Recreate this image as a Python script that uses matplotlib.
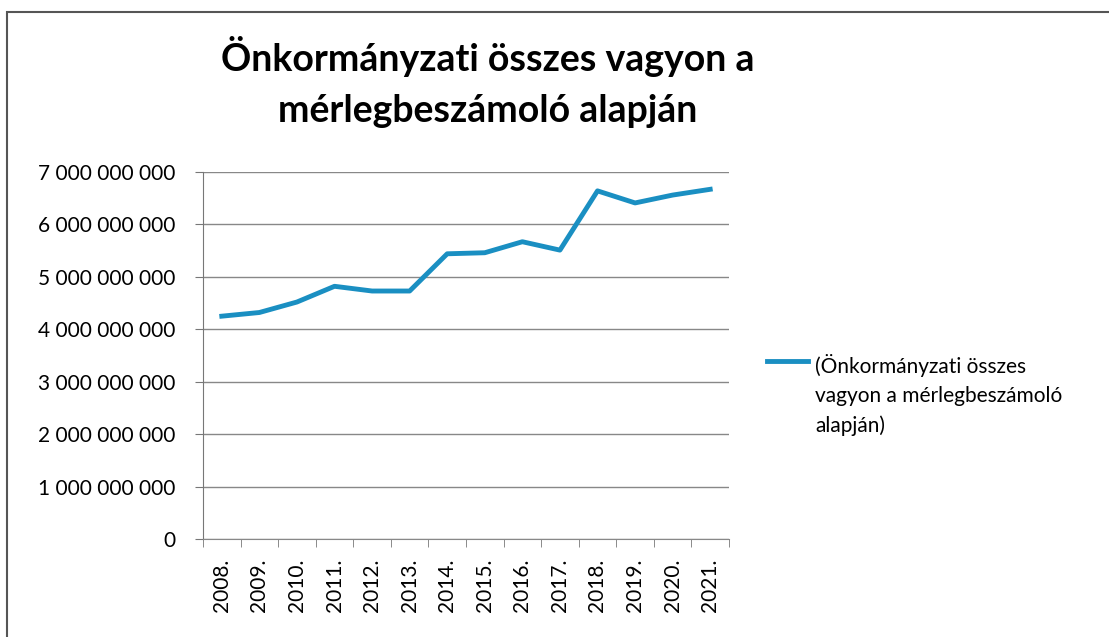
import numpy as np
import matplotlib.pyplot as plt
from matplotlib.lines import Line2D
from matplotlib.patches import Rectangle
from matplotlib.ticker import FuncFormatter

plt.rcParams['font.family'] = ['Lato', 'DejaVu Sans']

# adatok (leolvasva)
evek = ['2008.', '2009.', '2010.', '2011.', '2012.', '2013.', '2014.',
        '2015.', '2016.', '2017.', '2018.', '2019.', '2020.', '2021.']
vagyon = [4.25e9, 4.32e9, 4.52e9, 4.82e9, 4.73e9, 4.73e9, 5.44e9,
          5.46e9, 5.67e9, 5.51e9, 6.64e9, 6.41e9, 6.56e9, 6.67e9]
y_ticks = [0, 1e9, 2e9, 3e9, 4e9, 5e9, 6e9, 7e9]

cim = 'Önkormányzati összes vagyon a\nmérlegbeszámoló alapján'
jelmagyarazat = '(Önkormányzati összes\nvagyon a mérlegbeszámoló\nalapján)'
szin = '#1a8fc2'

fig = plt.figure(figsize=(11.09, 6.37), dpi=100)
ax = fig.add_axes([203/1109, 1 - 539/637, (729 - 203)/1109, (539 - 172)/637])

x = np.arange(len(evek))
ax.plot(x, vagyon, color=szin, linewidth=3.5, solid_joinstyle='round')

ax.set_xlim(-0.5, len(evek) - 0.5)
ax.set_ylim(0, 7e9)
ax.set_yticks(y_ticks)
ax.yaxis.set_major_formatter(FuncFormatter(lambda v, p: f'{int(v):,}'.replace(',', ' ')))
ax.grid(axis='y', color='#888888', linewidth=1)
ax.set_axisbelow(True)

ax.set_xticks(x)
ax.set_xticklabels(evek, rotation=90, fontsize=15)
ax.set_xticks(np.arange(-0.5, len(evek)), minor=True)
ax.tick_params(axis='x', which='major', length=0, pad=14)
ax.tick_params(axis='x', which='minor', length=6, direction='out', color='#777777')
ax.tick_params(axis='y', length=6, direction='out', color='#777777', labelsize=15, pad=14)

for s in ['top', 'right']:
    ax.spines[s].set_visible(False)
ax.spines['left'].set_color('#777777')
ax.spines['bottom'].set_color('#888888')

fig.text(488/1109, 1 - 82/637, cim, ha='center', va='center', fontsize=27,
         fontweight='bold', linespacing=1.6)

# jelmagyarázat
fig.add_artist(Line2D([767/1109, 808/1109], [1 - 361/637, 1 - 361/637],
                      transform=fig.transFigure, color=szin, linewidth=3.5))
fig.text(815/1109, 1 - 395/637, jelmagyarazat, ha='left', va='center', fontsize=15,
         linespacing=1.55, transform=fig.transFigure)

# keret
fig.patches.append(Rectangle((7/1109, -0.1), 1.2, 1 - 12/637 + 0.1, transform=fig.transFigure,
                             fill=False, edgecolor='#555555', linewidth=1.5))

fig.savefig('out.png', dpi=100)
